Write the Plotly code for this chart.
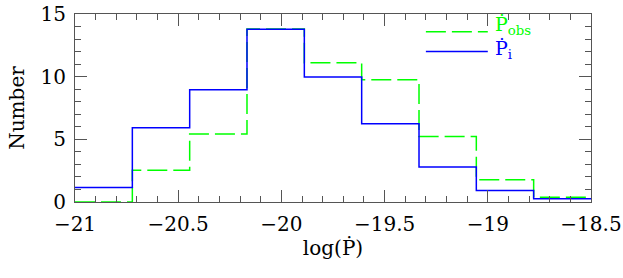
import plotly.graph_objects as go

bin_edges = [-21.0, -20.7222, -20.4444, -20.1667, -19.8889, -19.6111, -19.3333, -19.0556, -18.7778, -18.5]
p_obs = [0.0, 2.53, 5.43, 13.8, 11.12, 9.75, 5.23, 1.77, 0.38]
p_i = [1.15, 5.93, 8.95, 13.78, 9.98, 6.25, 2.8, 0.91, 0.25]

x_ticks = [-21, -20.5, -20, -19.5, -19, -18.5]
x_labels = ["\u221221", "\u221220.5", "\u221220", "\u221219.5", "\u221219", "\u221218.5"]
y_ticks = [0, 5, 10, 15]

FONT = "DejaVu Serif, serif"
GREEN = "#00ff00"
BLUE = "#0000ff"

fig = go.Figure()
fig.add_trace(go.Scatter(x=bin_edges, y=p_obs + [p_obs[-1]], mode="lines", line_shape="hv",
                         line=dict(color=GREEN, width=1.5, dash="20px,6px"), showlegend=False))
fig.add_trace(go.Scatter(x=bin_edges, y=p_i + [p_i[-1]], mode="lines", line_shape="hv",
                         line=dict(color=BLUE, width=1.5), showlegend=False))

# legend drawn manually
fig.add_shape(type="line", xref="paper", yref="paper", x0=0.68, x1=0.80, y0=0.906, y1=0.906,
              line=dict(color=GREEN, width=1.5, dash="20px,6px"))
fig.add_shape(type="line", xref="paper", yref="paper", x0=0.68, x1=0.80, y0=0.80, y1=0.80,
              line=dict(color=BLUE, width=1.5))
fig.add_annotation(xref="paper", yref="paper", x=0.81, y=0.94, xanchor="left", yanchor="middle",
                   text="\u1E56<sub>obs</sub>", showarrow=False, font=dict(family=FONT, size=19, color=GREEN))
fig.add_annotation(xref="paper", yref="paper", x=0.81, y=0.81, xanchor="left", yanchor="middle",
                   text="\u1E56<sub>i</sub>", showarrow=False, font=dict(family=FONT, size=19, color=BLUE))

axis_common = dict(showgrid=False, zeroline=False, showline=True, linecolor="#555", linewidth=1.2,
                   mirror="ticks", ticks="inside", tickcolor="#555", tickwidth=1.2, ticklen=12,
                   automargin=False, tickfont=dict(family=FONT, size=20, color="black"))

fig.update_xaxes(range=[-21, -18.5], tickvals=x_ticks, ticktext=x_labels, ticklabelstandoff=4,
                 minor=dict(dtick=0.1, ticklen=6, ticks="inside", tickcolor="#555", tickwidth=1.2),
                 title=dict(text="log(\u1E56)", font=dict(family=FONT, size=20, color="black"), standoff=0),
                 **axis_common)
fig.update_yaxes(range=[0, 15], tickvals=y_ticks, ticklabelstandoff=4,
                 minor=dict(dtick=1, ticklen=6, ticks="inside", tickcolor="#555", tickwidth=1.2),
                 title=dict(text="Number", font=dict(family=FONT, size=20, color="black"), standoff=10),
                 **axis_common)

fig.update_layout(width=623, height=278, margin=dict(l=75, r=32, t=14, b=75.5),
                  plot_bgcolor="white", paper_bgcolor="white")

fig.write_html("out.html", config={"displayModeBar": False},
               post_script="document.body.style.margin='0';")
